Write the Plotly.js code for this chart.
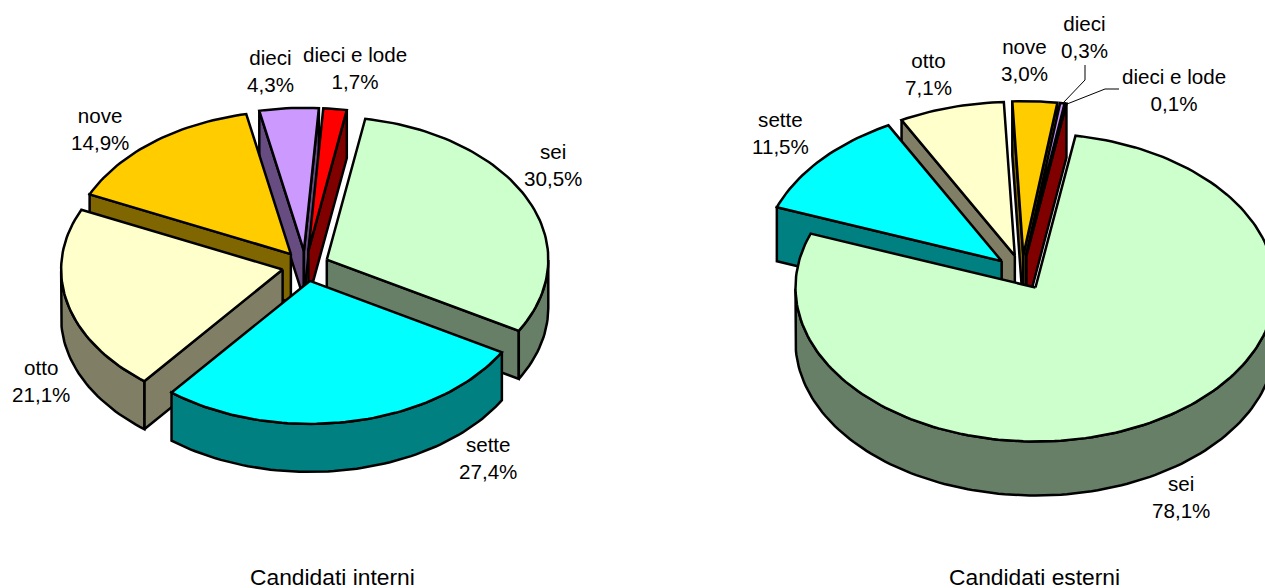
<!DOCTYPE html>
<html>
<head>
<meta charset="utf-8">
<script src="https://cdn.plot.ly/plotly-3.0.1.min.js"></script>
<style>html,body{margin:0;padding:0;background:#fff;overflow:hidden}#chart{width:1265px;height:588px}</style>
</head>
<body>
<div id="chart"></div>
<script>
const categories = ["sei", "sette", "otto", "nove", "dieci", "dieci e lode"];
const interni = [30.5, 27.4, 21.1, 14.9, 4.3, 1.7];
const esterni = [78.1, 11.5, 7.1, 3.0, 0.3, 0.1];
const topColors = ["#ccffcc", "#00ffff", "#ffffcc", "#ffcc00", "#cc99ff", "#ff0000"];
const wallColors = ["#667f66", "#008080", "#807f66", "#806600", "#664c80", "#800000"];

const pieInterni = {values: interni, cx: 305.5, cy: 266, rx: 221.5, ry: 143, explode: 23.5, depth: 48, start: 10};
const pieEsterni = {values: esterni, cx: 1022, cy: 272.5, rx: 240, ry: 154, explode: 27, depth: 54, start: 9.6};

const labelsInterni = [[553, 165], [488, 458], [41, 381], [100, 129], [270, 71], [355, 68]];
const labelsEsterni = [[1181, 497], [780, 133], [928, 74], [1024, 60], [1084, 37], [1174, 90]];

const rad = d => d * Math.PI / 180;
const traces = [];
function poly(xs, ys, fill) {
  traces.push({
    type: "scatter", mode: "lines", x: xs, y: ys, fill: "toself", fillcolor: fill,
    line: {color: "#000", width: 2.5, shape: "linear"}, hoverinfo: "skip", showlegend: false
  });
}
function drawPie(p) {
  const total = p.values.reduce((a, b) => a + b, 0);
  let angle = p.start;
  const slices = p.values.map((v, i) => {
    const span = v / total * 360, s = {i, a0: angle, a1: angle + span, mid: angle + span / 2};
    angle += span;
    return s;
  });
  slices.sort((a, b) => Math.cos(rad(b.mid)) - Math.cos(rad(a.mid)));
  slices.forEach(s => {
    const ax = p.cx + p.explode * Math.sin(rad(s.mid));
    const ay = p.cy - p.explode * Math.cos(rad(s.mid)) * p.ry / p.rx;
    const px = a => ax + p.rx * Math.sin(rad(a));
    const py = a => ay - p.ry * Math.cos(rad(a));
    const d = p.depth, wall = wallColors[s.i];
    // radial walls: only the ones that face the viewer
    if (Math.sin(rad(s.a0)) < 0) poly([ax, px(s.a0), px(s.a0), ax, ax], [ay, py(s.a0), py(s.a0) + d, ay + d, ay], wall);
    if (Math.sin(rad(s.a1)) > 0) poly([ax, px(s.a1), px(s.a1), ax, ax], [ay, py(s.a1), py(s.a1) + d, ay + d, ay], wall);
    const arc = [];
    const n = Math.max(2, Math.ceil((s.a1 - s.a0) / 1.5));
    for (let k = 0; k <= n; k++) arc.push(s.a0 + (s.a1 - s.a0) * k / n);
    const front = arc.filter(a => Math.cos(rad(a)) < 0);
    if (front.length > 1) {
      const fx = front.map(px), fy = front.map(py);
      poly(fx.concat(fx.slice().reverse(), [fx[0]]),
           fy.concat(fy.slice().reverse().map(y => y + d), [fy[0]]), wall);
    }
    poly([ax].concat(arc.map(px), [ax]), [ay].concat(arc.map(py), [ay]), topColors[s.i]);
  });
}
drawPie(pieInterni);
drawPie(pieEsterni);

// leader lines of the two smallest external slices
[[1085, 65, 1085, 80, 1063, 103], [1119, 89, 1105, 89, 1067, 104]].forEach(c => {
  traces.push({type: "scatter", mode: "lines", x: [c[0], c[2], c[4]], y: [c[1], c[3], c[5]],
    line: {color: "#000", width: 1}, hoverinfo: "skip", showlegend: false});
});

const fmt = v => v.toFixed(1).replace(".", ",") + "%";
const font = {family: "'Liberation Sans', Arial, sans-serif", size: 20.6, color: "#000"};
const titleFont = {family: "'Liberation Sans', Arial, sans-serif", size: 22.8, color: "#000"};
const annotations = [];
function addLabels(vals, pos) {
  vals.forEach((v, i) => annotations.push({
    xref: "x", yref: "y", x: pos[i][0], y: pos[i][1], xanchor: "center", yanchor: "middle",
    text: categories[i] + "<br>" + fmt(v), showarrow: false, font: font, align: "center"
  }));
}
addLabels(interni, labelsInterni);
addLabels(esterni, labelsEsterni);
annotations.push({xref: "x", yref: "y", x: 332.5, y: 577, text: "Candidati interni", showarrow: false, font: titleFont, xanchor: "center", yanchor: "middle"});
annotations.push({xref: "x", yref: "y", x: 1034, y: 577, text: "Candidati esterni", showarrow: false, font: titleFont, xanchor: "center", yanchor: "middle"});

Plotly.newPlot("chart", traces, {
  width: 1265, height: 588,
  margin: {l: 0, r: 0, t: 0, b: 0, pad: 0},
  paper_bgcolor: "#fff", plot_bgcolor: "#fff",
  xaxis: {range: [0, 1265], visible: false, fixedrange: true},
  yaxis: {range: [588, 0], visible: false, fixedrange: true},
  showlegend: false, annotations: annotations
}, {displayModeBar: false, staticPlot: true});
</script>
</body>
</html>
